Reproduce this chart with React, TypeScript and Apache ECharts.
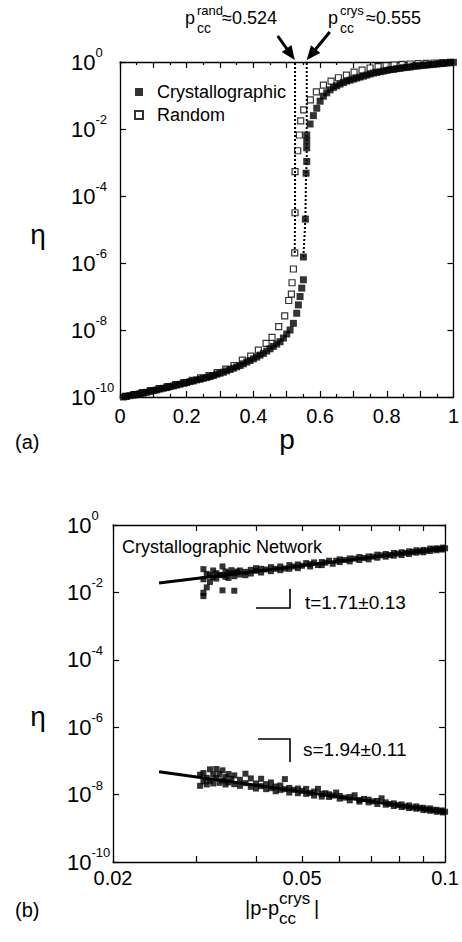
import React, { useEffect, useRef } from "react";
import * as echarts from "echarts";

const FONT = "'Liberation Sans', Arial, Helvetica, sans-serif";

// ---------- (a) eta vs p ----------
const crysP = [
  0.01, 0.02, 0.03, 0.04, 0.05, 0.06, 0.07, 0.08, 0.09, 0.1,
  0.11, 0.12, 0.13, 0.14, 0.15, 0.16, 0.17, 0.18, 0.19, 0.2,
  0.21, 0.22, 0.23, 0.24, 0.25, 0.26, 0.27, 0.28, 0.29, 0.3,
  0.31, 0.32, 0.33, 0.34, 0.35, 0.36, 0.37, 0.38, 0.39, 0.4,
  0.41, 0.42, 0.43, 0.44, 0.45, 0.46, 0.47, 0.48, 0.49, 0.5,
  0.51, 0.52, 0.53, 0.535, 0.54, 0.545, 0.55,
  0.55, 0.556, 0.558, 0.56, 0.56, 0.56, 0.56,
  0.57, 0.58, 0.59, 0.6, 0.61, 0.62, 0.63, 0.64, 0.65, 0.66,
  0.67, 0.68, 0.69, 0.7, 0.71, 0.72, 0.73, 0.74, 0.75, 0.76,
  0.77, 0.78, 0.79, 0.8, 0.81, 0.82, 0.83, 0.84, 0.85, 0.86,
  0.87, 0.88, 0.89, 0.9, 0.91, 0.92, 0.93, 0.94, 0.95, 0.96,
  0.97, 0.98, 0.99, 1.0,
];
const crysEta = [
  1.0e-10, 1.05e-10, 1.1e-10, 1.15e-10, 1.2e-10, 1.26e-10, 1.32e-10, 1.38e-10, 1.48e-10, 1.55e-10,
  1.62e-10, 1.74e-10, 1.82e-10, 1.91e-10, 2.04e-10, 2.14e-10, 2.29e-10, 2.4e-10, 2.57e-10, 2.69e-10,
  2.88e-10, 3.02e-10, 3.24e-10, 3.39e-10, 3.63e-10, 3.8e-10, 4.07e-10, 4.37e-10, 4.79e-10, 5.13e-10,
  5.5e-10, 6.03e-10, 6.61e-10, 7.24e-10, 7.94e-10, 8.71e-10, 9.77e-10, 1.1e-9, 1.23e-9, 1.38e-9,
  1.55e-9, 1.78e-9, 2.0e-9, 2.34e-9, 2.75e-9, 3.24e-9, 3.8e-9, 4.47e-9, 5.75e-9, 7.59e-9,
  1.0e-8, 1.58e-8, 3.16e-8, 5.62e-8, 1.0e-7, 1.78e-7, 3.16e-7,
  1.51e-6, 2.04e-5, 4.79e-4, 1.07e-3, 2.75e-3, 4.37e-3, 6.61e-3,
  1.41e-2, 2.51e-2, 4.17e-2, 6.76e-2, 9.55e-2, 0.12, 0.148, 0.174, 0.195, 0.219,
  0.245, 0.269, 0.288, 0.309, 0.331, 0.355, 0.38, 0.407, 0.437, 0.468,
  0.49, 0.513, 0.537, 0.562, 0.589, 0.603, 0.631, 0.646, 0.676, 0.692,
  0.708, 0.741, 0.759, 0.776, 0.794, 0.813, 0.832, 0.851, 0.871, 0.891,
  0.912, 0.933, 0.955, 0.977,
];
const randP = [
  0.017, 0.042, 0.067, 0.092, 0.117, 0.142, 0.167, 0.192, 0.217, 0.242,
  0.267, 0.292, 0.317, 0.342, 0.367, 0.392, 0.415, 0.438, 0.456, 0.476,
  0.494, 0.506, 0.514, 0.516, 0.52, 0.524, 0.525, 0.525, 0.533, 0.538,
  0.542, 0.551, 0.571, 0.589, 0.61, 0.633, 0.655, 0.679, 0.702, 0.726,
  0.75, 0.774, 0.798, 0.822, 0.846, 0.87, 0.894, 0.918, 0.942, 0.966, 0.99,
];
const randEta = [
  1.05e-10, 1.17e-10, 1.35e-10, 1.55e-10, 1.78e-10, 2.04e-10, 2.34e-10, 2.69e-10, 3.16e-10, 3.72e-10,
  4.37e-10, 5.37e-10, 6.76e-10, 8.71e-10, 1.26e-9, 1.66e-9, 2.51e-9, 3.98e-9, 6.03e-9, 1.26e-8,
  2.63e-8, 7.59e-8, 1.17e-7, 2.57e-7, 6.61e-7, 2.0e-6, 3.16e-5, 5.37e-4, 2.24e-3, 6.61e-3,
  1.74e-2, 3.72e-2, 7.41e-2, 0.129, 0.204, 0.269, 0.339, 0.407, 0.501, 0.575,
  0.661, 0.724, 0.776, 0.813, 0.851, 0.871, 0.891, 0.912, 0.933, 0.955, 0.977,
];
// dotted jumps at the thresholds
const crysJumpP = [0.55, 0.556, 0.558, 0.56, 0.56];
const crysJumpEta = [1.51e-6, 2.04e-5, 4.79e-4, 1.07e-3, 1];
const randJumpP = [0.524, 0.525, 0.525, 0.525];
const randJumpEta = [2.0e-6, 3.16e-5, 5.37e-4, 1];
const pccRand = 0.524;
const pccCrys = 0.555;
const pTicks = [0, 0.1, 0.2, 0.3, 0.4, 0.5, 0.6, 0.7, 0.8, 0.9, 1];

// ---------- (b) eta vs |p - pcc| ----------
const tX = [
  0.031, 0.031, 0.031, 0.031, 0.0315, 0.0315, 0.032, 0.032, 0.0325, 0.0325,
  0.033, 0.033, 0.0335, 0.034, 0.034, 0.034, 0.0345, 0.0345, 0.035, 0.035,
  0.0355, 0.036, 0.036, 0.036, 0.0365, 0.037, 0.037, 0.038, 0.038, 0.039,
  0.039, 0.04, 0.04, 0.041, 0.041, 0.042, 0.043, 0.043, 0.044, 0.045,
  0.045, 0.046, 0.047, 0.047, 0.048, 0.049, 0.049, 0.05, 0.051, 0.052,
  0.052, 0.053, 0.054, 0.055, 0.055, 0.056, 0.057, 0.058, 0.059, 0.06,
  0.06, 0.0615, 0.063, 0.063, 0.0645, 0.066, 0.066, 0.0675, 0.069, 0.069,
  0.0705, 0.072, 0.072, 0.0735, 0.075, 0.075, 0.0765, 0.078, 0.078, 0.0795,
  0.081, 0.081, 0.0825, 0.084, 0.084, 0.0855, 0.087, 0.087, 0.0885, 0.09,
  0.09, 0.0915, 0.093, 0.093, 0.0945, 0.096, 0.096, 0.0975, 0.099, 0.099, 0.1,
];
const tEta = [
  4.9e-2, 2.45e-2, 9.77e-3, 7.76e-3, 3.55e-2, 1.41e-2, 3.24e-2, 2.04e-2, 4.47e-2, 2.82e-2,
  2.57e-2, 3.72e-2, 3.31e-2, 5.89e-2, 1.15e-2, 3.24e-2, 2.88e-2, 4.17e-2, 3.72e-2, 2.69e-2,
  4.57e-2, 1.12e-2, 3.8e-2, 3.02e-2, 4.17e-2, 3.39e-2, 4.47e-2, 4.07e-2, 3.24e-2, 4.68e-2,
  3.63e-2, 4.37e-2, 5.25e-2, 3.89e-2, 5.01e-2, 4.79e-2, 4.27e-2, 5.62e-2, 5.01e-2, 5.89e-2,
  4.57e-2, 5.13e-2, 6.46e-2, 5.01e-2, 5.89e-2, 5.25e-2, 6.76e-2, 6.17e-2, 7.41e-2, 5.89e-2,
  6.92e-2, 7.76e-2, 6.46e-2, 7.94e-2, 6.46e-2, 7.59e-2, 8.71e-2, 7.08e-2, 8.71e-2, 7.94e-2,
  9.55e-2, 9.12e-2, 8.32e-2, 0.102, 0.1, 9.12e-2, 0.112, 0.105, 0.117, 9.55e-2,
  0.115, 0.107, 0.132, 0.126, 0.115, 0.138, 0.129, 0.148, 0.123, 0.141,
  0.129, 0.155, 0.148, 0.166, 0.138, 0.158, 0.151, 0.178, 0.166, 0.182,
  0.155, 0.174, 0.17, 0.2, 0.191, 0.178, 0.204, 0.195, 0.186, 0.214, 0.204,
];
const sX = [
  0.0305, 0.0305, 0.031, 0.031, 0.0315, 0.0315, 0.032, 0.032, 0.0325, 0.0325,
  0.033, 0.033, 0.0335, 0.0335, 0.034, 0.034, 0.0345, 0.0345, 0.035, 0.035,
  0.0355, 0.036, 0.036, 0.037, 0.037, 0.038, 0.038, 0.039, 0.039, 0.04,
  0.04, 0.041, 0.041, 0.042, 0.042, 0.043, 0.043, 0.044, 0.044, 0.045,
  0.045, 0.046, 0.046, 0.047, 0.047, 0.048, 0.049, 0.049, 0.05, 0.051,
  0.051, 0.052, 0.053, 0.053, 0.054, 0.055, 0.055, 0.056, 0.057, 0.057,
  0.058, 0.059, 0.06, 0.06, 0.0615, 0.063, 0.063, 0.0645, 0.066, 0.066,
  0.0675, 0.069, 0.069, 0.0705, 0.072, 0.072, 0.0735, 0.075, 0.075, 0.0765,
  0.078, 0.078, 0.0795, 0.081, 0.081, 0.0825, 0.084, 0.084, 0.0855, 0.087,
  0.087, 0.0885, 0.09, 0.09, 0.0915, 0.093, 0.093, 0.0945, 0.096, 0.096,
  0.0975, 0.099, 0.099, 0.1,
];
const sEta = [
  1.82e-8, 3.89e-8, 4.37e-8, 2.45e-8, 3.16e-8, 2.0e-8, 5.62e-8, 2.57e-8, 3.98e-8, 2.14e-8,
  5.75e-8, 3.09e-8, 4.07e-8, 2.24e-8, 5.25e-8, 2.63e-8, 3.31e-8, 2.0e-8, 4.07e-8, 2.29e-8,
  2.88e-8, 3.72e-8, 2.04e-8, 2.75e-8, 1.82e-8, 4.17e-8, 2.19e-8, 3.02e-8, 1.7e-8, 2.14e-8,
  1.51e-8, 2.95e-8, 1.78e-8, 2.04e-8, 1.45e-8, 2.29e-8, 1.55e-8, 1.74e-8, 1.26e-8, 1.86e-8,
  1.38e-8, 2.88e-8, 1.45e-8, 1.58e-8, 1.15e-8, 1.38e-8, 1.51e-8, 1.1e-8, 1.29e-8, 1.48e-8,
  1.05e-8, 1.12e-8, 1.23e-8, 9.33e-9, 1.48e-8, 1.05e-8, 8.71e-9, 1.1e-8, 8.51e-9, 1.02e-8,
  9.33e-9, 1.15e-8, 7.59e-9, 9.12e-9, 8.13e-9, 8.51e-9, 6.76e-9, 9.55e-9, 6.92e-9, 6.17e-9,
  7.41e-9, 5.89e-9, 7.08e-9, 6.31e-9, 6.46e-9, 5.25e-9, 7.76e-9, 5.01e-9, 5.89e-9, 5.25e-9,
  5.5e-9, 4.57e-9, 4.9e-9, 4.27e-9, 5.13e-9, 4.47e-9, 4.79e-9, 3.98e-9, 4.17e-9, 3.8e-9,
  4.47e-9, 3.98e-9, 4.07e-9, 3.47e-9, 3.63e-9, 3.31e-9, 3.89e-9, 3.47e-9, 3.55e-9, 3.09e-9,
  3.24e-9, 2.95e-9, 3.39e-9, 3.09e-9,
];
// power-law fits
const tFitX = [0.025, 0.1];
const tFitEta = [1.91e-2, 0.204];
const sFitX = [0.025, 0.1];
const sFitEta = [4.79e-8, 3.09e-9];
const bTickValues = [0.02, 0.03, 0.04, 0.05, 0.06, 0.07, 0.08, 0.09, 0.1];
const bLabelValues = [0.02, 0.05, 0.1];

const lg = Math.log10;
const pairs = (xs: number[], ys: number[], fx = (v: number) => v) =>
  xs.map((x, i) => [fx(x), lg(ys[i])]);

const BLACK = "#000";
const axisLine = { show: true, onZero: false, lineStyle: { color: BLACK, width: 1.3 } };

const yLabelRich = {
  b: { fontFamily: FONT, fontSize: 22, color: BLACK, lineHeight: 32 },
  s: { fontFamily: FONT, fontSize: 13, color: BLACK, lineHeight: 13, verticalAlign: "top" },
};

function yAxes(gridIndex: number, margin: number) {
  const base = {
    gridIndex,
    type: "value",
    min: -10,
    max: 0,
    interval: 2,
    splitLine: { show: false },
    axisLine,
    axisTick: { show: true, inside: true, length: 6, lineStyle: { color: BLACK, width: 1.2 } },
  };
  return [
    {
      ...base,
      position: "left",
      axisLabel: {
        show: true,
        margin,
        align: "left",
        formatter: (v: number) => `{b|10}{s|${Math.round(v)}}`,
        rich: yLabelRich,
      },
    },
    { ...base, position: "right", axisLabel: { show: false } },
  ];
}

export default function App() {
  const ref = useRef<HTMLDivElement>(null);

  useEffect(() => {
    const chart = echarts.init(ref.current!, null, { renderer: "svg" });

    const topTickStyle = { show: true, inside: true, length: 6, lineStyle: { color: BLACK, width: 1.2 } };
    const topMinor = { show: true, splitNumber: 2, length: 3, lineStyle: { color: BLACK, width: 1.2 } };
    const topX = {
      gridIndex: 0,
      type: "value",
      min: 0,
      max: 1,
      interval: 0.1,
      splitLine: { show: false },
      minorSplitLine: { show: false },
      axisLine,
      axisTick: topTickStyle,
      minorTick: topMinor,
    };
    const pLabels = pTicks.filter((_, i) => i % 2 === 0);
    const bX = {
      gridIndex: 1,
      type: "value",
      min: lg(bTickValues[0]),
      max: lg(bTickValues[bTickValues.length - 1]),
      splitLine: { show: false },
      axisLine,
      axisTick: {
        show: true,
        inside: true,
        length: 6,
        customValues: bTickValues.map(lg),
        lineStyle: { color: BLACK, width: 1.2 },
      },
    };

    const option: any = {
      animation: false,
      backgroundColor: "#fff",
      textStyle: { fontFamily: FONT, color: BLACK },
      grid: [
        { left: 120, top: 62, width: 336, height: 335 },
        { left: 113, top: 525, width: 338, height: 337 },
      ],
      xAxis: [
        {
          ...topX,
          position: "bottom",
          axisLabel: {
            show: true,
            margin: 9,
            fontFamily: FONT,
            fontSize: 20,
            color: BLACK,
            formatter: (v: number) => {
              const r = Math.round(v * 10) / 10;
              return pLabels.some((q) => Math.abs(q - r) < 1e-6) ? String(r) : "";
            },
          },
        },
        { ...topX, position: "top", axisLabel: { show: false } },
        {
          ...bX,
          position: "bottom",
          axisLabel: {
            show: true,
            margin: 6,
            fontFamily: FONT,
            fontSize: 20,
            lineHeight: 20,
            color: BLACK,
            customValues: bLabelValues.map(lg),
            formatter: (v: number) => String(parseFloat(Math.pow(10, v).toFixed(2))),
          },
        },
        { ...bX, position: "top", axisLabel: { show: false } },
      ],
      yAxis: [...yAxes(0, 49), ...yAxes(1, 46)],
      legend: {
        data: ["Crystallographic", "Random"],
        orient: "vertical",
        left: 129,
        top: 78,
        itemWidth: 8,
        itemHeight: 8,
        itemGap: 5,
        icon: "rect",
        selectedMode: false,
        textStyle: { fontFamily: FONT, fontSize: 18, color: BLACK, padding: [0, 0, 0, 9] },
      },
      series: [
        {
          name: "Random",
          type: "scatter",
          xAxisIndex: 0,
          yAxisIndex: 0,
          symbol: "rect",
          symbolSize: 6,
          itemStyle: { color: "#fff", borderColor: BLACK, borderWidth: 1.2 },
          data: pairs(randP, randEta),
        },
        {
          name: "Crystallographic",
          type: "scatter",
          xAxisIndex: 0,
          yAxisIndex: 0,
          symbol: "rect",
          symbolSize: 7,
          itemStyle: { color: BLACK },
          data: pairs(crysP, crysEta),
        },
        {
          name: "randJump",
          type: "line",
          xAxisIndex: 0,
          yAxisIndex: 0,
          showSymbol: false,
          lineStyle: { color: BLACK, width: 2, type: "dotted" },
          data: pairs(randJumpP, randJumpEta),
          z: 3,
        },
        {
          name: "crysJump",
          type: "line",
          xAxisIndex: 0,
          yAxisIndex: 0,
          showSymbol: false,
          lineStyle: { color: BLACK, width: 2, type: "dotted" },
          data: pairs(crysJumpP, crysJumpEta),
          z: 3,
        },
        {
          name: "tFit",
          type: "line",
          xAxisIndex: 2,
          yAxisIndex: 2,
          showSymbol: false,
          lineStyle: { color: BLACK, width: 3 },
          data: pairs(tFitX, tFitEta, lg),
        },
        {
          name: "sFit",
          type: "line",
          xAxisIndex: 2,
          yAxisIndex: 2,
          showSymbol: false,
          lineStyle: { color: BLACK, width: 3 },
          data: pairs(sFitX, sFitEta, lg),
        },
        {
          name: "t",
          type: "scatter",
          xAxisIndex: 2,
          yAxisIndex: 2,
          symbol: "rect",
          symbolSize: 6,
          itemStyle: { color: BLACK },
          data: pairs(tX, tEta, lg),
        },
        {
          name: "s",
          type: "scatter",
          xAxisIndex: 2,
          yAxisIndex: 2,
          symbol: "rect",
          symbolSize: 6,
          itemStyle: { color: BLACK },
          data: pairs(sX, sEta, lg),
        },
      ],
    };
    chart.setOption(option);

    // arrows pointing at the thresholds, anchored through the axes
    const tipR = chart.convertToPixel({ xAxisIndex: 0, yAxisIndex: 0 }, [pccRand, 0]) as number[];
    const tipC = chart.convertToPixel({ xAxisIndex: 0, yAxisIndex: 0 }, [0.56, 0]) as number[];
    const arrow = (tx: number, ty: number, fx: number, fy: number) => {
      const dx = tx - fx;
      const dy = ty - fy;
      const len = Math.hypot(dx, dy);
      const ux = dx / len;
      const uy = dy / len;
      const hl = 14;
      const hw = 6;
      const bx = tx - ux * hl;
      const by = ty - uy * hl;
      return [
        {
          type: "line",
          shape: { x1: fx, y1: fy, x2: bx + ux * 2, y2: by + uy * 2 },
          style: { stroke: BLACK, lineWidth: 3 },
        },
        {
          type: "polygon",
          shape: {
            points: [
              [tx, ty],
              [bx - uy * hw, by + ux * hw],
              [bx + uy * hw, by - ux * hw],
            ],
          },
          style: { fill: BLACK },
        },
      ];
    };
    const txt = (text: string, x: number, y: number, size: number, align = "left") => ({
      type: "text",
      x,
      y,
      style: { text, fontFamily: FONT, fontSize: size, fill: BLACK, align, verticalAlign: "middle" },
    });
    const ty = tipR[1] - 2;

    chart.setOption({
      graphic: [
        ...arrow(tipR[0], ty, tipR[0] - 17, ty - 24),
        ...arrow(tipC[0], ty, tipC[0] + 23, ty - 28),
        // p_cc^rand ≈ 0.524
        txt("p", 185, 18, 18),
        txt("rand", 197, 10, 13),
        txt("cc", 197, 28, 14),
        txt("\u2248" + pccRand.toFixed(3), 222, 18, 18),
        // p_cc^crys ≈ 0.555
        txt("p", 328, 18, 18),
        txt("crys", 340, 10, 13),
        txt("cc", 340, 28, 14),
        txt("\u2248" + pccCrys.toFixed(3), 366, 18, 18),
        // axis names and panel labels
        txt("\u03b7", 38, 234, 28, "center"),
        txt("p", 287, 439, 28, "center"),
        txt("(a)", 15, 442, 20),
        txt("\u03b7", 38, 716, 28, "center"),
        txt("|p-p", 245, 908, 20),
        txt("crys", 279, 898, 17),
        txt("cc", 279, 918, 17),
        txt("|", 314, 908, 20),
        txt("(b)", 15, 910, 20),
        // panel (b) annotations
        txt("Crystallographic Network", 122, 547, 18),
        {
          type: "polyline",
          shape: { points: [[256, 608], [290, 608], [290, 589]] },
          style: { stroke: BLACK, lineWidth: 1.6, fill: "none" },
        },
        txt("t=1.71\u00b10.13", 305, 602, 19),
        {
          type: "polyline",
          shape: { points: [[258, 739], [290, 739], [290, 762]] },
          style: { stroke: BLACK, lineWidth: 1.6, fill: "none" },
        },
        txt("s=1.94\u00b10.11", 303, 749, 19),
      ],
    });

    return () => chart.dispose();
  }, []);

  return (
    <div
      ref={ref}
      style={{ position: "fixed", left: 0, top: 0, width: 462, height: 942, background: "#fff" }}
    />
  );
}
